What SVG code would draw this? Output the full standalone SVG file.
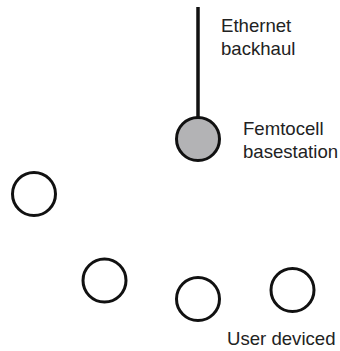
<svg xmlns="http://www.w3.org/2000/svg" width="340" height="351" viewBox="0 0 340 351">
<style>
.n{fill:none;stroke:#111;stroke-width:3}
.b{fill:#b3b3b5;stroke:#111;stroke-width:3}
.t{font-family:"Liberation Sans",Arial,sans-serif;font-size:18.6px;fill:#222}
.c{stroke:#111;stroke-width:3.5;fill:none}
</style>
<rect width="340" height="351" fill="#fff"/>
<g id="connectors">
<line class="c" x1="198" y1="7" x2="198" y2="118"/>
</g>
<g id="backhaul-label">
<text class="t" x="221" y="32">Ethernet</text>
<text class="t" x="221" y="55">backhaul</text>
</g>
<g id="femtocell">
<circle class="b" cx="198" cy="139" r="21.5"/>
<text class="t" x="243" y="135">Femtocell</text>
<text class="t" x="243" y="158">basestation</text>
</g>
<g id="device1"><circle class="n" cx="34" cy="194" r="21.5"/></g>
<g id="device2"><circle class="n" cx="104.5" cy="280.5" r="21.5"/></g>
<g id="device3"><circle class="n" cx="198" cy="299" r="21.5"/></g>
<g id="device4"><circle class="n" cx="292.5" cy="290" r="21.5"/></g>
<g id="devices-label">
<text class="t" x="227" y="345">User deviced</text>
</g>
</svg>
